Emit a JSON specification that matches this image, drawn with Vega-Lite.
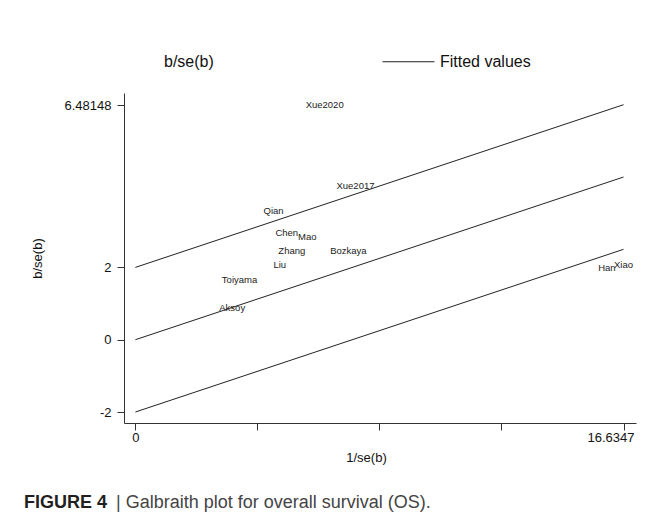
{
  "$schema": "https://vega.github.io/schema/vega-lite/v6.json",
  "width": 512,
  "height": 330,
  "autosize": {"type": "none"},
  "padding": {"left": 124, "top": 93, "right": 18, "bottom": 100},
  "background": "white",
  "config": {
    "view": {"stroke": null},
    "font": "Liberation Sans",
    "axis": {
      "grid": false,
      "domainColor": "#333333",
      "domainWidth": 1,
      "tickColor": "#333333",
      "tickWidth": 1,
      "tickSize": 7,
      "labelFont": "Liberation Sans",
      "labelFontSize": 13,
      "labelColor": "#111111",
      "titleFont": "Liberation Sans",
      "titleFontSize": 13,
      "titleFontWeight": "normal",
      "titleColor": "#111111"
    }
  },
  "title": {
    "text": "FIGURE 4",
    "subtitle": "| Galbraith plot for overall survival (OS).",
    "orient": "bottom",
    "anchor": "start",
    "font": "Liberation Sans",
    "fontSize": 18,
    "fontWeight": "bold",
    "color": "#231f20",
    "subtitleFont": "Liberation Sans",
    "subtitleFontSize": 18,
    "subtitleColor": "#444444",
    "subtitlePadding": -18,
    "offset": 30,
    "dx": -7,
    "encode": {"subtitle": {"update": {"dx": {"value": 85}}}}
  },
  "datasets": {
    "studies": [
      {"study": "Xue2020", "x": 6.45, "y": 6.48148},
      {"study": "Xue2017", "x": 7.5, "y": 4.26},
      {"study": "Qian", "x": 4.71, "y": 3.57},
      {"study": "Chen", "x": 5.16, "y": 2.95},
      {"study": "Mao", "x": 5.86, "y": 2.83},
      {"study": "Zhang", "x": 5.33, "y": 2.44},
      {"study": "Bozkaya", "x": 7.26, "y": 2.46},
      {"study": "Liu", "x": 4.92, "y": 2.08},
      {"study": "Toiyama", "x": 3.55, "y": 1.65},
      {"study": "Aksoy", "x": 3.3, "y": 0.89},
      {"study": "Han", "x": 16.07, "y": 1.98},
      {"study": "Xiao", "x": 16.6347, "y": 2.07}
    ],
    "fitted": [
      {"line": "upper", "series": "Fitted values", "x": 0, "y": 2},
      {"line": "upper", "series": "Fitted values", "x": 16.6347, "y": 6.5},
      {"line": "middle", "series": "Fitted values", "x": 0, "y": 0},
      {"line": "middle", "series": "Fitted values", "x": 16.6347, "y": 4.5},
      {"line": "lower", "series": "Fitted values", "x": 0, "y": -2},
      {"line": "lower", "series": "Fitted values", "x": 16.6347, "y": 2.5}
    ]
  },
  "encoding": {
    "x": {
      "field": "x",
      "type": "quantitative",
      "scale": {"domain": [-0.388, 17.06], "nice": false, "zero": false},
      "axis": {
        "title": "1/se(b)",
        "values": [0, 4.158675, 8.31735, 12.476025, 16.6347],
        "labelExpr": "datum.value == 0 ? '0' : (datum.value > 16 ? '16.6347' : '')",
        "labelPadding": 1,
        "labelFlush": false,
        "labelOverlap": false,
        "labelOffset": {"condition": {"test": "datum.value > 16", "value": -13}, "value": 0},
        "titleX": 242,
        "titleY": 28,
        "titleBaseline": "top"
      }
    },
    "y": {
      "field": "y",
      "type": "quantitative",
      "scale": {"domain": [-2.304, 6.824], "nice": false, "zero": false},
      "axis": {
        "title": "b/se(b)",
        "values": [-2, 0, 2, 6.48148],
        "labelExpr": "'' + datum.value",
        "labelPadding": 6,
        "labelFlush": false,
        "labelOverlap": false,
        "titleX": -87,
        "titleBaseline": "middle"
      }
    }
  },
  "layer": [
    {
      "data": {"name": "fitted"},
      "mark": {"type": "line", "strokeWidth": 1},
      "encoding": {
        "detail": {"field": "line"},
        "color": {
          "field": "series",
          "type": "nominal",
          "scale": {"domain": ["b/se(b)", "Fitted values"], "range": ["#222222", "#222222"]},
          "legend": {
            "title": null,
            "orient": "none",
            "legendX": -18,
            "legendY": -58,
            "direction": "horizontal",
            "symbolType": "stroke",
            "symbolSize": 2704,
            "symbolStrokeWidth": 1,
            "symbolStrokeColor": "#222222",
            "labelFont": "Liberation Sans",
            "labelFontSize": 16,
            "labelColor": "#111111",
            "labelOffset": 5,
            "columnPadding": 166,
            "padding": 0,
            "encode": {"symbols": {"update": {"opacity": {"signal": "datum.value === 'b/se(b)' ? 0 : 1"}}}}
          }
        }
      }
    },
    {
      "data": {"name": "studies"},
      "mark": {"type": "text", "font": "Liberation Sans", "fontSize": 9.5, "color": "#222222", "align": "center", "baseline": "middle"},
      "encoding": {
        "text": {"field": "study", "type": "nominal"}
      }
    }
  ]
}
